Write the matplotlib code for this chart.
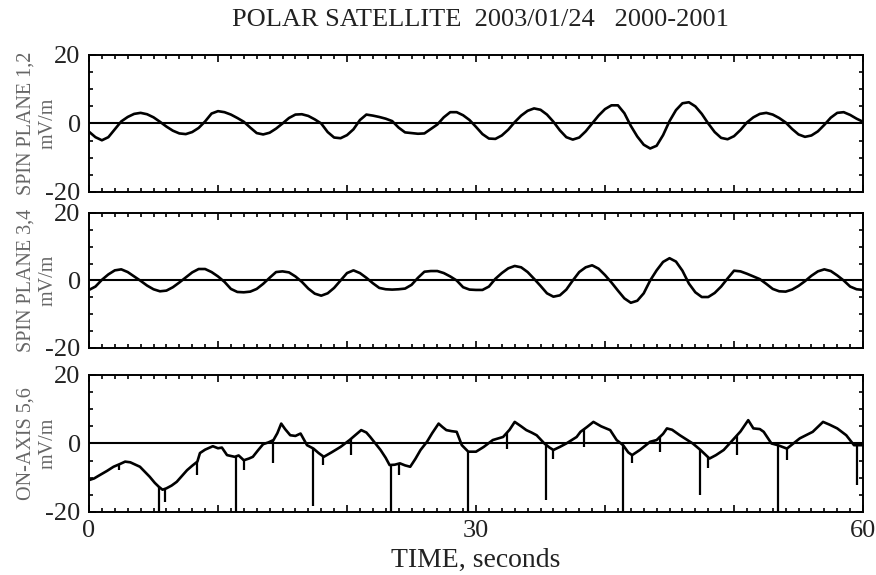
import numpy as np
import matplotlib
matplotlib.use("Agg")
import matplotlib.pyplot as plt
from matplotlib.ticker import MultipleLocator, FixedLocator

plt.rcParams['font.family'] = ['Liberation Serif', 'DejaVu Serif']

TITLE = "POLAR SATELLITE  2003/01/24   2000-2001"
XLABEL = "TIME, seconds"
PANEL_NAMES = ["SPIN PLANE 1,2", "SPIN PLANE 3,4", "ON-AXIS 5,6"]
UNITS = "mV/m"
X_TICKS = [0, 30, 60]
Y_TICKS = [-20, 0, 20]

# Panel 1 & 2 sampled every 0.5 s
t12 = np.arange(0, 60.01, 0.5)
spin12 = [-2.4, -4.0, -4.9, -4.0, -1.7, 0.6, 1.9, 2.8, 3.1, 2.7,
          1.8, 0.5, -0.9, -2.1, -2.9, -3.1, -2.5, -1.3, 0.6, 2.9,
          3.6, 3.3, 2.6, 1.6, 0.5, -1.2, -2.8, -3.2, -2.7, -1.5,
          0.0, 1.6, 2.6, 2.7, 2.2, 1.2, 0.0, -2.5, -4.1, -4.3,
          -3.4, -1.7, 1.0, 2.6, 2.3, 1.9, 1.4, 0.7, -1.2, -2.6,
          -2.8, -3.0, -2.9, -1.6, -0.3, 1.8, 3.3, 3.3, 2.4, 1.0,
          -1.0, -3.1, -4.4, -4.5, -3.5, -1.8, 0.4, 2.3, 3.7, 4.4,
          4.0, 2.6, 0.5, -2.0, -4.0, -4.7, -4.1, -2.3, 0.0, 2.3,
          4.2, 5.3, 5.3, 3.0, -0.7, -3.8, -6.2, -7.3, -6.5, -3.4,
          0.7, 3.9, 5.9, 6.2, 5.0, 2.8, 0.0, -2.5, -4.2, -4.6,
          -3.7, -1.9, 0.3, 1.8, 2.8, 3.1, 2.6, 1.6, 0.3, -1.6,
          -3.2, -3.9, -3.5, -2.3, -0.4, 1.7, 3.1, 3.3, 2.5, 1.4,
          0.5]
spin34 = [-2.8, -1.8, 0.2, 1.8, 3.0, 3.3, 2.5, 1.2, -0.1, -1.5,
          -2.6, -3.2, -3.0, -2.0, -0.6, 0.9, 2.4, 3.4, 3.4, 2.5,
          1.2, -0.4, -2.5, -3.4, -3.5, -3.3, -2.5, -1.0, 0.8, 2.5,
          2.7, 2.4, 1.2, -0.4, -2.4, -3.9, -4.5, -3.8, -2.2, 0.0,
          2.2, 3.0, 2.2, 0.8, -0.8, -2.2, -2.6, -2.7, -2.6, -2.4,
          -1.3, 0.8, 2.6, 2.8, 2.8, 2.2, 1.2, 0.0, -2.0, -2.7,
          -2.8, -2.8, -1.8, 0.5, 2.2, 3.6, 4.3, 3.9, 2.5, 0.5,
          -1.6, -3.8, -4.8, -4.4, -2.7, 0.0, 2.5, 3.9, 4.5, 3.5,
          1.6, -0.6, -3.0, -5.3, -6.6, -6.0, -3.8, 0.0, 3.0, 5.5,
          6.6, 5.6, 2.9, -0.9, -3.5, -4.9, -4.9, -3.7, -1.8, 0.6,
          2.9, 2.7, 2.0, 1.2, 0.4, -1.0, -2.5, -3.2, -3.3, -2.7,
          -1.6, -0.2, 1.4, 2.7, 3.3, 2.8, 1.5, 0.0, -1.8, -2.6,
          -2.8]

# Panel 3 base trace (irregular sampling)
t3 = [0, 0.4, 0.85, 1.4, 1.9, 2.4, 2.8, 3.2, 3.95, 4.7, 5.1, 5.4, 5.7, 6.0, 6.4,
      6.8, 7.2, 7.6, 8.0, 8.4, 8.6, 9.0, 9.6, 10.0, 10.3, 10.7, 11.3, 11.6, 12.0,
      12.4, 12.7, 13.1, 13.5, 13.9, 14.3, 14.6, 14.9, 15.2, 15.6, 16.0, 16.4, 16.9,
      17.4, 17.8, 18.2, 18.8, 19.5, 20.2, 20.6, 21.1, 21.5, 21.8, 22.2, 22.6, 23.0,
      23.3, 23.7, 24.1, 24.5, 24.9, 25.3, 25.7, 26.2, 26.6, 27.1, 27.4, 27.7, 28.1,
      28.5, 28.9, 29.4, 30.0, 30.6, 31.3, 32.1, 32.6, 33.0, 33.5, 33.9, 34.3, 34.7,
      35.3, 35.7, 36.0, 36.5, 37.0, 37.8, 38.1, 38.6, 39.1, 39.7, 40.4, 40.9, 41.4,
      41.8, 42.1, 42.7, 43.5, 44.0, 44.5, 44.8, 45.2, 45.8, 46.8, 47.4, 48.1, 48.6,
      49.2, 49.9, 50.5, 51.1, 51.5, 52.0, 52.3, 52.9, 53.4, 54.1, 54.6, 55.1, 56.1,
      56.9, 57.4, 58.0, 58.7, 59.3, 60.0]
axis56 = [-10.7, -10.2, -9.2, -8.0, -6.8, -6.0, -5.3, -5.5, -6.8, -9.7, -11.5, -12.6,
          -13.5, -13.1, -12.3, -11.2, -9.5, -7.8, -6.5, -5.3, -2.8, -1.8, -0.8, -1.4,
          -1.2, -3.4, -3.9, -3.5, -4.9, -4.4, -3.9, -2.0, -0.2, 0.3, 1.0, 3.0, 5.8,
          4.2, 2.4, 2.2, 2.9, -0.5, -1.5, -2.8, -3.9, -2.6, -1.0, 1.0, 2.3, 3.9, 3.2,
          1.9, 0.0, -1.9, -4.2, -6.3, -6.2, -5.8, -6.4, -6.8, -4.5, -1.9, 0.5, 3.0,
          5.8, 4.8, 3.9, 3.6, 3.4, -0.5, -2.4, -2.4, -1.0, 1.0, 1.9, 4.0, 6.3, 5.0,
          3.9, 3.2, 2.4, 0.0, -1.2, -1.9, -1.0, 0.0, 1.9, 3.4, 4.8, 6.3, 5.0, 3.9,
          1.0, -0.5, -2.6, -3.4, -1.9, 0.5, 1.0, 2.8, 4.4, 4.0, 2.4, 0.0, -1.9, -4.4,
          -3.4, -1.9, 1.0, 3.5, 6.8, 4.4, 4.2, 3.4, 0.0, -0.5, -1.5, 0.0, 1.5, 3.4,
          6.3, 5.5, 4.4, 2.4, -0.5, -0.5]

# Spikes in the on-axis trace: time and lowest value
spike_t = [2.3, 5.4, 5.9, 8.4, 11.4, 12.0, 14.3, 17.4, 18.1, 20.3, 23.4, 24.0,
           29.4, 32.4, 35.4, 36.0, 38.4, 41.4, 42.1, 44.3, 47.4, 48.0, 50.2,
           53.4, 54.1, 59.5]
spike_lo = [-7.8, -20, -17.0, -9.2, -20, -7.8, -5.8, -18.4, -6.3, -3.4, -20, -9.2,
            -20, -1.5, -16.5, -4.4, -1.0, -20, -5.8, -2.4, -15.0, -7.3, -3.4,
            -20, -4.9, -12.1]

fig = plt.figure(figsize=(8.76, 5.75), dpi=100)
rects = [[0.1016, 0.6661, 0.8836, 0.2383],
         [0.1016, 0.3948, 0.8836, 0.2348],
         [0.1016, 0.1096, 0.8836, 0.2383]]
series = [(t12, spin12), (t12, spin34), (t3, axis56)]

for i, (rect, (tt, vv)) in enumerate(zip(rects, series)):
    ax = fig.add_axes(rect)
    ax.plot(tt, vv, color='black', lw=1.9, solid_joinstyle='round')
    if i == 2:
        base = np.interp(spike_t, tt, vv)
        ax.vlines(spike_t, spike_lo, base, color='black', lw=1.6)
    ax.axhline(0, color='black', lw=1.5)
    ax.set_xlim(0, 60)
    ax.set_ylim(-20, 20)
    for s in ax.spines.values():
        s.set_linewidth(1.4)
    ax.yaxis.set_major_locator(FixedLocator(Y_TICKS))
    ax.yaxis.set_minor_locator(MultipleLocator(5))
    ax.xaxis.set_major_locator(MultipleLocator(10))
    ax.xaxis.set_minor_locator(MultipleLocator(1))
    ax.tick_params(which='both', direction='in', top=True, right=True, width=1.2,
                   colors='black', labelcolor='#222222')
    ax.tick_params(which='major', length=5, labelsize=19, pad=6)
    ax.tick_params(which='minor', length=3)
    ax.set_yticklabels([str(v) for v in Y_TICKS])
    if i == 2:
        ax.set_xticks(np.arange(0, 61, 10))
        ax.set_xticklabels([str(v) if v in X_TICKS else '' for v in range(0, 61, 10)])
        ax.set_xlabel(XLABEL, fontsize=20, labelpad=4, color='#222222')
    else:
        ax.set_xticklabels([])
    ax.text(-0.0814, 0.5, PANEL_NAMES[i], transform=ax.transAxes, rotation=90,
            ha='center', va='center', fontsize=14.5, color='#666666')
    ax.text(-0.0525, 0.5, UNITS, transform=ax.transAxes, rotation=90,
            ha='center', va='center', fontsize=14.5, color='#666666')

fig.text(0.549, 0.985, TITLE, fontsize=19, ha='center', va='top', color='#222222')
fig.savefig("out.png", dpi=100)
